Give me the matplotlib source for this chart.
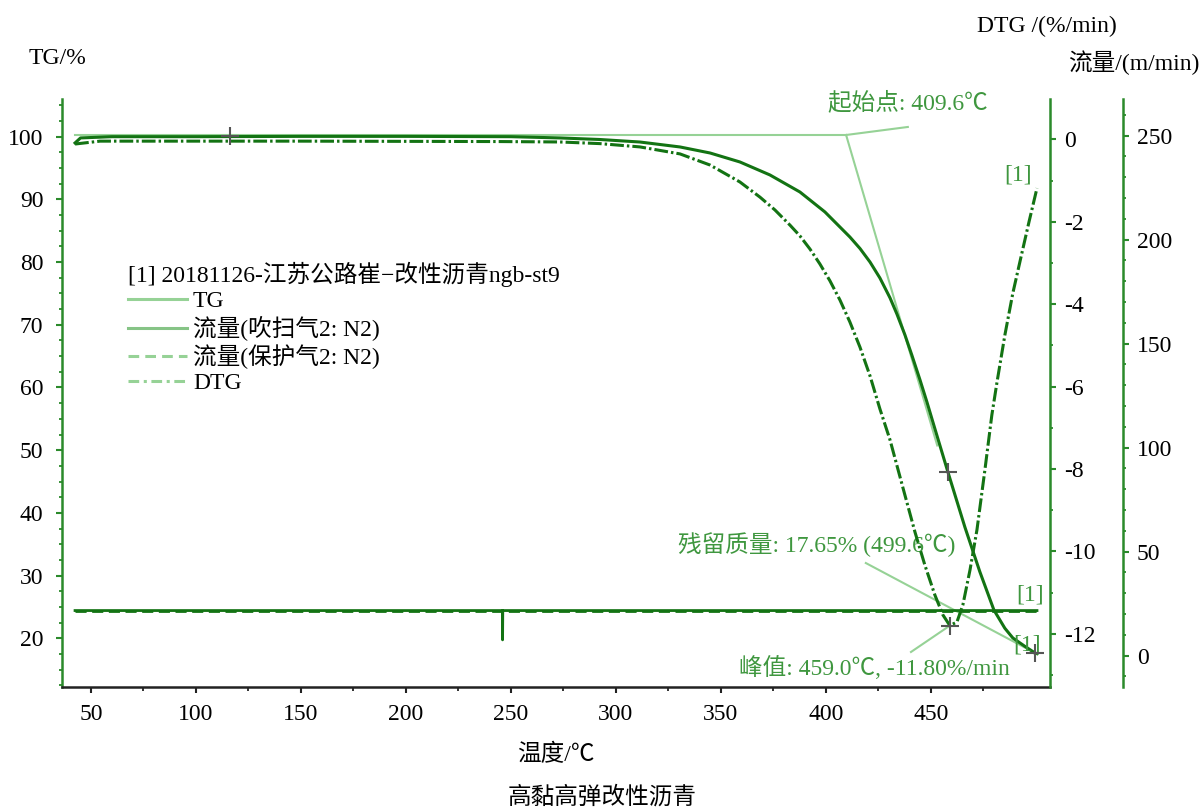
import matplotlib
matplotlib.use('Agg')
import matplotlib.pyplot as plt
from matplotlib.lines import Line2D
from matplotlib.ticker import MultipleLocator, FixedLocator

plt.rcParams['font.family'] = ['Liberation Serif', 'Noto Sans CJK SC']
plt.rcParams['font.size'] = 17
plt.rcParams['axes.unicode_minus'] = False

# ---------------- data ----------------
tg_temp = [42.4, 45, 60, 100, 150, 200, 250, 273.3, 292.4, 311.4, 330.5, 344.8,
           359.0, 373.3, 387.6, 399.5, 411.4, 416.2, 421.0, 425.7, 430.5, 433.8,
           437.6, 440.9, 444.8, 448.1, 451.9, 458.1, 466.2, 473.3, 480.0, 485.2,
           489.0, 494.8, 499.6, 500.5]
tg_val = [99.0, 99.8, 100.0, 100.0, 100.05, 100.05, 100.0, 99.8, 99.55, 99.15,
          98.36, 97.4, 95.97, 93.9, 91.18, 88.0, 84.0, 82.17, 80.0, 77.46, 74.3,
          71.71, 68.4, 65.17, 61.2, 57.67, 53.4, 46.5, 37.7, 30.6, 24.5, 21.6,
          20.05, 18.7, 17.65, 17.55]

dtg_temp = [42.4, 54.3, 149.5, 244.8, 273.3, 292.4, 311.4, 330.5, 344.8, 359.0,
            368.6, 375.7, 382.9, 387.6, 392.4, 397.1, 401.9, 406.7, 411.4, 416.2,
            421.0, 425.7, 430.5, 437.6, 442.4, 447.1, 451.9, 455.7, 459.0, 462.4,
            465.2, 468.6, 471.9, 475.7, 479.0, 481.4, 485.2, 489.0, 492.9, 496.7,
            500.5]
dtg_val = [-0.11, -0.04, -0.04, -0.05, -0.06, -0.10, -0.18, -0.35, -0.62, -1.03,
           -1.40, -1.71, -2.08, -2.34, -2.66, -3.02, -3.43, -3.90, -4.43, -5.04,
           -5.74, -6.54, -7.29, -8.63, -9.53, -10.33, -11.06, -11.54, -11.80,
           -11.71, -11.30, -10.45, -9.48, -8.02, -6.69, -5.91, -4.75, -3.73,
           -2.85, -2.00, -1.18]

purge_temp = [42.4, 245.9, 246.0, 246.1, 500.5]
purge_flow = [21.7, 21.7, 7.6, 21.7, 21.7]
protect_temp = [42.4, 500.5]
protect_flow = [21.7, 21.7]

onset_T, onset_TG = 409.6, 100.27
tangent_end_T = 453.0
tangent_slope = -1.141
peak_T, peak_DTG = 459.0, -11.80
resid_T, resid_TG = 499.6, 17.65
tg_cross_T = [116.2, 458.1]
tg_cross_V = [100.1, 46.5]

x_major = [50, 100, 150, 200, 250, 300, 350, 400, 450]
x_minor = [75, 125, 175, 225, 275, 325, 375, 425, 475]
tg_ticks = [20, 30, 40, 50, 60, 70, 80, 90, 100]
dtg_ticks = [-12, -10, -8, -6, -4, -2, 0]
flow_ticks = [0, 50, 100, 150, 200, 250]

legend_title = '[1] 20181126-江苏公路崔\u2212改性沥青ngb-st9'
legend_labels = ['TG', '流量(吹扫气2: N2)', '流量(保护气2: N2)', 'DTG']

# ---------------- styling ----------------
DARK = '#137313'
SPINE = '#2b8a2b'
TXT = '#3f973f'
LIGHT = '#96d296'
GRAY = '#555555'

W, H = 1203, 809
fig = plt.figure(figsize=(W / 100, H / 100), dpi=100)
ax = fig.add_axes([61.5 / W, (H - 687) / H, 988.5 / W, 588 / H])
ax2 = ax.twinx()
ax3 = ax.twinx()

ax.set_xlim(35.95, 506.7)
ax.set_ylim(12.23, 106.01)
ax2.set_ylim(-13.29, 0.983)
ax3.set_ylim(-15.05, 267.6)

for a in (ax, ax2, ax3):
    a.spines['top'].set_visible(False)
for a in (ax2, ax3):
    a.spines['left'].set_visible(False)
    a.spines['bottom'].set_visible(False)
    a.patch.set_visible(False)
ax.spines['right'].set_visible(False)
ax.spines['left'].set_color(SPINE)
ax.spines['left'].set_linewidth(1.8)
ax.spines['bottom'].set_color('#222222')
ax.spines['bottom'].set_linewidth(1.8)
ax2.spines['right'].set_color(SPINE)
ax2.spines['right'].set_linewidth(1.8)
ax3.spines['right'].set_position(('axes', 1.0739))
ax3.spines['right'].set_color(SPINE)
ax3.spines['right'].set_linewidth(1.8)

ax.set_xticks(x_major)
ax.xaxis.set_minor_locator(FixedLocator(x_minor))
ax.tick_params(axis='x', which='major', length=4, width=1.5, color='#222222', pad=8, labelsize=17)
ax.tick_params(axis='x', which='minor', length=3, width=1.3, color='#222222')

ax.set_yticks(tg_ticks)
ax.yaxis.set_minor_locator(MultipleLocator(2.5))
ax.tick_params(axis='y', which='major', length=4, width=1.5, color=SPINE, pad=9, labelsize=17)
ax.tick_params(axis='y', which='minor', length=2.5, width=1.3, color=SPINE)

ax2.set_yticks(dtg_ticks)
ax2.yaxis.set_minor_locator(MultipleLocator(1))
ax2.tick_params(axis='y', which='major', length=4, width=1.5, color=SPINE, pad=6, labelsize=17)
ax2.tick_params(axis='y', which='minor', length=2.5, width=1.3, color=SPINE)

ax3.set_yticks(flow_ticks)
ax3.yaxis.set_minor_locator(MultipleLocator(10))
ax3.tick_params(axis='y', which='major', length=4, width=1.5, color=SPINE, pad=6, labelsize=17)
ax3.tick_params(axis='y', which='minor', length=2.5, width=1.3, color=SPINE)

# ---------------- curves ----------------
ax3.plot(protect_temp, protect_flow, color=DARK, lw=2.0, ls=(0, (4, 2)), zorder=2)
ax3.plot(purge_temp, purge_flow, color=DARK, lw=2.0, zorder=3)
ax.plot(tg_temp, tg_val, color=DARK, lw=2.2, zorder=3, solid_joinstyle='round')
ax2.plot(dtg_temp, dtg_val, color=DARK, lw=2.2, ls=(0, (4.5, 1.0, 0.8, 1.0)), zorder=3)

# ---------------- evaluation annotations ----------------
ax.plot([tg_temp[0], onset_T], [onset_TG, onset_TG], color=LIGHT, lw=1.5, zorder=2)
ax.plot([onset_T, tangent_end_T],
        [onset_TG, onset_TG + tangent_slope * (tangent_end_T - onset_T)],
        color=LIGHT, lw=1.5, zorder=2)
ax.plot([onset_T, 439.0], [onset_TG, 101.55], color=LIGHT, lw=1.5, zorder=2)
ax.text(400.95, 105.37, f'起始点: {onset_T:.1f}℃', color=TXT, ha='left', va='center', fontsize=17)

ax.plot([resid_T, 419.0], [resid_TG, 32.0], color=LIGHT, lw=1.5, zorder=2)
ax.text(329.5, 34.9, f'残留质量: {resid_TG:.2f}% ({resid_T:.1f}℃)', color=TXT,
        ha='left', va='center', fontsize=17)
ax.plot([resid_T], [resid_TG], '+', color=GRAY, ms=13, mew=1.5, zorder=5)

ax2.plot([peak_T, 440.5], [peak_DTG, -12.44], color=LIGHT, lw=1.5, zorder=2)
ax2.text(358.6, -12.83, f'峰值: {peak_T:.1f}℃, {peak_DTG:.2f}%/min', color=TXT,
         ha='left', va='center', fontsize=17)
ax2.plot([peak_T], [peak_DTG], '+', color=GRAY, ms=13, mew=1.5, zorder=5)

ax.plot(tg_cross_T, tg_cross_V, '+', color=GRAY, ms=13, mew=1.5, zorder=5)

ax2.text(484.8, -0.86, '[1]', color=TXT, ha='left', va='center', fontsize=17)
ax3.text(490.5, 29.2, '[1]', color=TXT, ha='left', va='center', fontsize=17)
ax.text(489.0, 18.9, '[1]', color=TXT, ha='left', va='center', fontsize=17)

# ---------------- legend ----------------
handles = [Line2D([], [], color=LIGHT, lw=2.2),
           Line2D([], [], color='#86c486', lw=2.2),
           Line2D([], [], color=LIGHT, lw=2.2, ls=(0, (3.5, 2))),
           Line2D([], [], color=LIGHT, lw=2.2, ls=(0, (3.5, 1.5, 1, 1.5)))]
leg = ax.legend(handles, legend_labels, title=legend_title, loc='upper left',
                bbox_to_anchor=(128 / W, 1 - 262 / H), bbox_transform=fig.transFigure,
                frameon=False, fontsize=17, title_fontsize=17, handlelength=2.5,
                handletextpad=0.25, labelspacing=0.15, borderpad=0, borderaxespad=0,
                alignment='left')

# ---------------- axis titles ----------------
fig.text(29 / W, 1 - 58 / H, 'TG/%', ha='left', va='center', fontsize=17)
fig.text(977 / W, 1 - 26 / H, 'DTG /(%/min)', ha='left', va='center', fontsize=17)
fig.text(1068 / W, 1 - 63 / H, '流量/(m/min)', ha='left', va='center', fontsize=17)
fig.text(556 / W, 1 - 755 / H, '温度/℃', ha='center', va='center', fontsize=17)
fig.text(602 / W, 1 - 797 / H, '高黏高弹改性沥青', ha='center', va='center', fontsize=17)

fig.savefig('out.png', dpi=100)
